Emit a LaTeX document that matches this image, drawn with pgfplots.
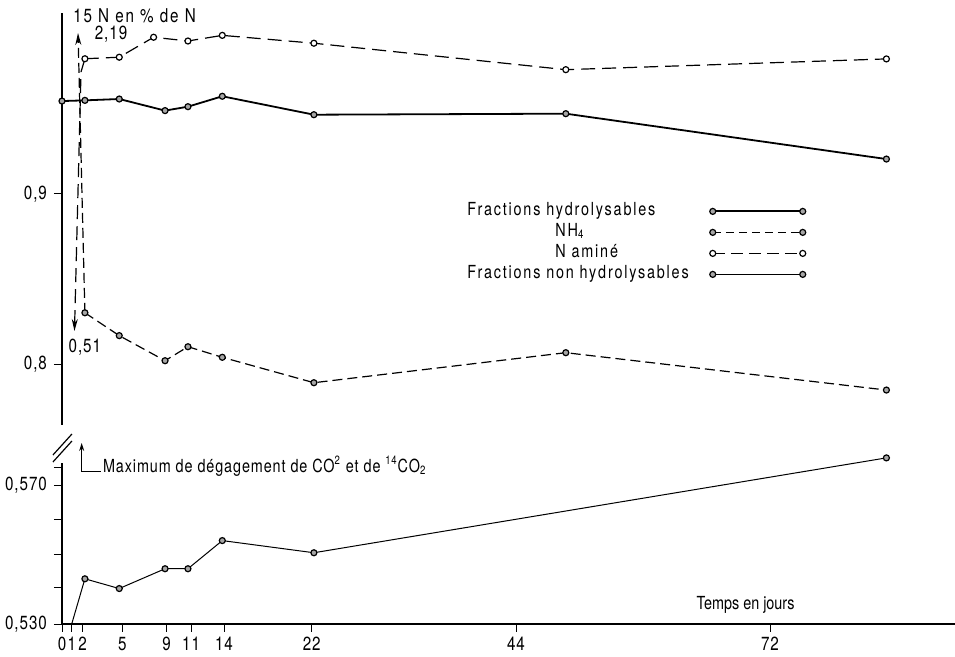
\documentclass[border=0pt]{standalone}
\usepackage{fontspec}
\setmainfont{TeX Gyre Heros}[FakeStretch=0.8]
\newfontfamily\widefont{TeX Gyre Heros}[FakeStretch=0.8, LetterSpace=10]
\newfontfamily\midfont{TeX Gyre Heros}[FakeStretch=0.8, LetterSpace=5]
\usepackage{pgfplots}
\usepackage{pgfplotstable}
\pgfplotsset{compat=1.18}
\usetikzlibrary{arrows.meta}

\pgfplotstableread{
d v
0 0.9543
2 0.9547
5 0.9555
9 0.9487
11 0.9510
14 0.9571
22 0.9463
44 0.9469
72 0.9203
}\hydro
\pgfplotstableread{
d v
2 0.8302
5 0.8168
9 0.8021
11 0.8103
14 0.8041
22 0.7892
44 0.8068
72 0.7849
}\nhq
\pgfplotstableread{
d v
2 0.9791
5 0.9800
8 0.9917
11 0.9895
14 0.9928
22 0.9882
44 0.9727
72 0.9790
}\namine
\pgfplotstableread{
d v
2 0.5430
5 0.5402
9 0.5459
11 0.5459
14 0.5540
22 0.5505
72 0.5778
}\nonhydro

\tikzset{
  fmark/.style={fill=gray!70, draw=black, line width=0.6pt, solid},
  omark/.style={fill=white, draw=black, line width=0.6pt, solid},
}

\begin{document}
\begin{tikzpicture}[font=\fontsize{9}{11}\selectfont]
\begin{axis}[
  anchor=south west, at={(0,0)},
  scale only axis, width=446.5pt, height=305.5pt,
  xmin=0, xmax=77.99, ymin=0, ymax=611,
  axis x line=bottom, axis y line=left,
  x axis line style={-, line width=1pt},
  y axis line style={-, line width=0.7pt},
  tick align=outside, major tick length=4pt,
  tick style={black, line width=0.4pt},
  xtick={0,0.85,1.81,5.27,9.14,11.27,14.15,21.81,39.65,61.83},
  xticklabels={0,1,2,5,9,11,14,22,44,72},
  ytick={0,37,70,105,139,157,259.7,430.3},
  yticklabels={{0,530},{},{},{},{0,570},{},{0,8},{0,9}},
  ticklabel style={font=\midfont\fontsize{9.5}{11}\selectfont},
  xticklabel style={yshift=1pt},
  clip=false,
  legend cell align=left,
  legend plot pos=right,
  legend style={draw=none, fill=none, at={(axis cs:35.2,423)}, anchor=north west,
     inner sep=0pt, row sep=0.5pt, font=\widefont\fontsize{9}{10}\selectfont,
     nodes={inner sep=1pt, text height=6pt, text depth=2pt}},
]
% legend images
\addlegendimage{legend image code/.code={\path[draw=none, fill=none] (0pt,0pt) -- (56pt,0pt);
   \draw[black, solid, line width=0.9pt] (11pt,0pt) -- (56pt,0pt);
   \filldraw[fmark] (11pt,0pt) circle (1.5pt) (56pt,0pt) circle (1.5pt);}}
\addlegendentry{Fractions hydrolysables}
\addlegendimage{legend image code/.code={\path[draw=none, fill=none] (0pt,0pt) -- (56pt,0pt);
   \draw[black, line width=0.6pt, dash pattern=on 4pt off 2.5pt] (11pt,0pt) -- (56pt,0pt);
   \filldraw[fmark] (11pt,0pt) circle (1.5pt) (56pt,0pt) circle (1.5pt);}}
\addlegendentry{\hspace*{44pt}NH\textsubscript{4}}
\addlegendimage{legend image code/.code={\path[draw=none, fill=none] (0pt,0pt) -- (56pt,0pt);
   \draw[black, line width=0.6pt, dash pattern=on 6pt off 3pt] (11pt,0pt) -- (56pt,0pt);
   \filldraw[omark] (11pt,0pt) circle (1.5pt) (56pt,0pt) circle (1.5pt);}}
\addlegendentry{\hspace*{44pt}N aminé}
\addlegendimage{legend image code/.code={\path[draw=none, fill=none] (0pt,0pt) -- (56pt,0pt);
   \draw[black, solid, line width=0.5pt] (11pt,0pt) -- (56pt,0pt);
   \filldraw[fmark] (11pt,0pt) circle (1.5pt) (56pt,0pt) circle (1.5pt);}}
\addlegendentry{Fractions non hydrolysables}
% Fractions hydrolysables
\addplot[black, line width=0.9pt, mark=*, mark size=1.5pt, mark options={fmark}, forget plot]
  table[x=d, y expr={430.3-(0.9-\thisrow{v})*1706}] {\hydro};
% NH4
\addplot[black, line width=0.6pt, dash pattern=on 5pt off 2.5pt, mark=*, mark size=1.5pt, mark options={fmark}, forget plot]
  table[x=d, y expr={430.3-(0.9-\thisrow{v})*1706}] {\nhq};
% N amine
\addplot[black, line width=0.6pt, dash pattern=on 7pt off 3.5pt, mark=*, mark size=1.5pt, mark options={omark}, forget plot]
  table[x=d, y expr={430.3-(0.9-\thisrow{v})*1706}] {\namine};
% Fractions non hydrolysables
\addplot[black, line width=0.5pt, mark=*, mark size=1.5pt, mark options={fmark}, forget plot]
  table[x=d, y expr={(\thisrow{v}-0.530)*3475}] {\nonhydro};
\addplot[black, line width=0.5pt, forget plot] coordinates {(0.85,0) (2,45.2)};
% off-scale arrows
\addplot[black, line width=0.6pt, dash pattern=on 5pt off 2.5pt, -{Stealth[length=6pt,width=3pt]}, forget plot]
  coordinates {(2,311.2) (1.40,591)};
\addplot[black, line width=0.6pt, dash pattern=on 7pt off 3.5pt, -{Stealth[length=6pt,width=3pt]}, forget plot]
  coordinates {(2,565.2) (1.66,552) (1.09,293)};
% axis break
\fill[white] (axis cs:-0.6,161) rectangle (axis cs:0.6,199);
\draw[line width=0.6pt] (axis cs:-0.79,169) -- (axis cs:0.87,190);
\draw[line width=0.6pt] (axis cs:-0.79,162) -- (axis cs:0.87,183);
% annotations
\node[anchor=west, inner sep=0pt, font=\widefont\fontsize{9.5}{11}\selectfont] at (axis cs:0.95,608) {15 N en \% de N};
\node[inner sep=0pt, font=\midfont\fontsize{9.5}{11}\selectfont] at (axis cs:4.28,590) {2,19};
\node[inner sep=0pt, font=\midfont\fontsize{9.5}{11}\selectfont] at (axis cs:2.0,277) {0,51};
\node[inner sep=0pt, font=\fontsize{9}{11}\selectfont] at (axis cs:59.7,19) {Temps en jours};
\draw[line width=0.5pt, -{Stealth[length=4pt,width=2.5pt]}] (axis cs:1.72,152) -- (axis cs:1.72,181);
\draw[line width=0.5pt] (axis cs:1.72,152) -- (axis cs:3.4,152);
\node[anchor=west, inner sep=0pt, font=\midfont\fontsize{9}{11}\selectfont] at (axis cs:3.55,158)
  {Maximum de dégagement de CO\textsuperscript{2} et de \textsuperscript{14}CO\textsubscript{2}};
\end{axis}
\pgfresetboundingbox
\path[use as bounding box] (-31pt,-16.5pt) rectangle (446.5pt,312pt);
\end{tikzpicture}
\end{document}
